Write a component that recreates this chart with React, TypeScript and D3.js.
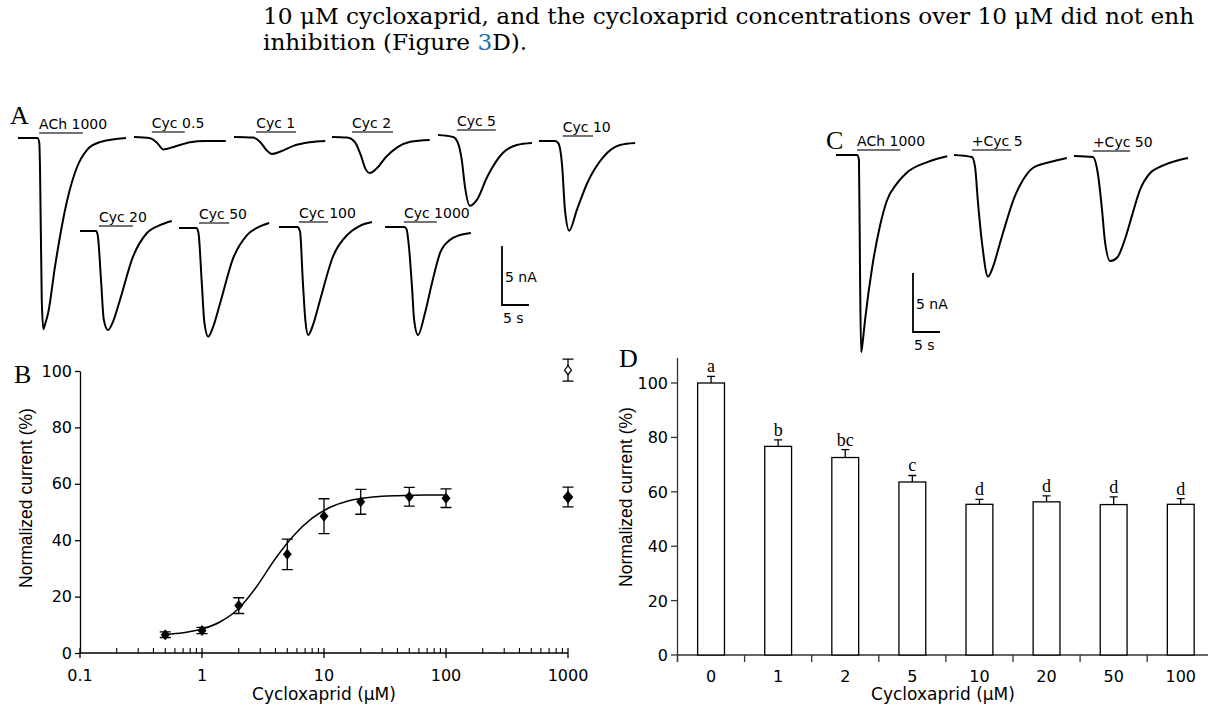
import React, { useRef, useEffect } from "react";
import * as d3 from "d3";

const SANS = "'DejaVu Sans', Verdana, sans-serif";
const SANS_ROT = "'Liberation Sans', Arial, sans-serif";
const SERIF = "'Liberation Serif', 'Times New Roman', serif";
const BODY = "'DejaVu Serif', Georgia, serif";

// running text above the figure
const bodyLine1 = "10 μM cycloxaprid, and the cycloxaprid concentrations over 10 μM did not enh";
const bodyLine2a = "inhibition (Figure ";
const bodyLine2ref = "3";
const bodyLine2b = "D).";

// Panel A: current traces (time in s, current in nA)
const labelsA = ["ACh 1000", "Cyc 0.5", "Cyc 1", "Cyc 2", "Cyc 5", "Cyc 10", "Cyc 20", "Cyc 50", "Cyc 100", "Cyc 1000"];
const barsA = [[3.9, 12.0], [3.3, 9.4], [4.1, 11.5], [3.7, 11.3], [3.5, 10.7], [4.4, 10.0], [3.5, 9.8], [3.7, 9.3], [3.7, 9.1], [3.5, 9.6]];
const timesA = [
  [0, 3.6, 3.95, 4.07, 4.4, 4.7, 5.0, 5.6, 6.85, 9.1, 10.9, 12.8, 15.2, 20],
  [0, 3.0, 4.3, 5.4, 7.6, 10.4, 13.1, 17],
  [0, 3.5, 4.8, 6.0, 7.0, 8.5, 11, 14, 16.9],
  [0, 2.8, 4.2, 5.3, 6.2, 7.0, 8.2, 10, 12, 14.5, 18.1],
  [0, 2.8, 3.7, 4.4, 5.0, 5.9, 7.2, 9.1, 12, 14.6, 17.4],
  [0, 3.0, 3.6, 4.3, 4.8, 5.6, 7.0, 8.9, 11.9, 15, 17.8],
  [0, 3.0, 3.3, 3.9, 4.4, 5.2, 6.1, 7.4, 9.8, 12.4, 14.8, 17],
  [0, 3.2, 3.6, 4.2, 4.7, 5.4, 6.3, 7.6, 10, 12.6, 14.8, 16.7],
  [0, 3.4, 3.9, 4.4, 4.9, 5.4, 6.3, 7.6, 10, 12.8, 15, 17.2],
  [0, 3.6, 4.0, 4.5, 5.0, 5.4, 6.1, 7.4, 8.7, 10.2, 12, 13.9, 15.9],
];
const currentsA = [
  [0, 0, -0.45, -2.4, -13.7, -16.2, -15.8, -14.8, -10.9, -5.3, -2.5, -1.0, -0.35, 0],
  [0, -0.1, -0.5, -1.05, -0.8, -0.45, -0.34, -0.34],
  [0, -0.05, -0.4, -1.1, -1.44, -1.25, -0.75, -0.45, -0.34],
  [0, -0.05, -0.4, -1.5, -2.7, -3.05, -2.7, -1.7, -0.9, -0.4, -0.25],
  [0, -0.17, -0.68, -2.1, -4.4, -6.0, -5.5, -3.56, -1.53, -0.85, -0.68],
  [0, 0, -0.2, -2.2, -5.8, -7.6, -5.85, -3.6, -1.36, -0.34, -0.17],
  [0, 0, -0.4, -4.2, -7.5, -8.4, -7.7, -5.85, -2.2, -0.17, 0.5, 0.85],
  [0, 0, -0.4, -4.5, -8, -9.2, -8.4, -6.4, -2.6, -0.6, 0.1, 0.42],
  [0, 0, -0.4, -4.5, -8, -9.15, -8.3, -6.2, -2.5, -0.6, 0.1, 0.42],
  [0, 0, -0.2, -2, -5.1, -7.9, -9.15, -7.3, -4.75, -2.2, -1.1, -0.68, -0.5],
];

// Panel C: current traces
const labelsC = ["ACh 1000", "+Cyc 5", "+Cyc 50"];
const barsC = [[3.9, 11.9], [3.3, 10.6], [3.5, 10.4]];
const timesC = [
  [0, 3.9, 4.25, 4.45, 4.65, 4.9, 5.4, 6.7, 8.1, 9.4, 11.3, 13.1, 16.9, 20.6],
  [0, 3.3, 3.9, 4.4, 5.2, 6.3, 7.2, 8.5, 9.8, 11, 12.8, 14.6, 17.8, 20.9],
  [0, 3.5, 4.4, 5.2, 5.7, 6.7, 8.0, 9.4, 10.9, 12.2, 14.1, 15.9, 18.3, 21.1],
];
const currentsC = [
  [0, 0, -0.4, -10, -16.7, -16.0, -13.9, -9.5, -6.1, -3.9, -2.4, -1.5, -0.6, -0.1],
  [0, -0.17, -1.0, -3.8, -7.5, -10.3, -9.5, -7.5, -5.5, -3.8, -2.1, -1.1, -0.6, -0.25],
  [0, -0.08, -1.44, -4.6, -7.1, -8.9, -8.6, -7.1, -4.8, -2.9, -1.44, -0.93, -0.5, -0.17],
];

// Panel B: concentration-response
const concB = [0.5, 1, 2, 5, 10, 20, 50, 100];
const meanB = [6.5, 8.0, 16.8, 35, 48.5, 53.6, 55.4, 54.9];
const semB = [1.0, 1.1, 2.8, 5.4, 6.2, 4.4, 3.3, 3.3];
const fitConc = [0.5, 0.7, 1, 1.4, 2, 2.8, 4, 5.6, 8, 11, 16, 25, 40, 70, 100];
const fitResp = [6.6, 7.2, 8.5, 11, 15.8, 23.5, 33.5, 41.5, 47.8, 51.5, 54, 55.3, 55.8, 56, 56];
const highConc = [1000, 1000];
const highMean = [55.3, 100.3];
const highSem = [3.5, 3.9];
const highFilled = [true, false];
const ticksBx = [0.1, 1, 10, 100, 1000];
const ticksBy = [0, 20, 40, 60, 80, 100];

// Panel D: bars
const catD = ["0", "1", "2", "5", "10", "20", "50", "100"];
const meanD = [100, 76.7, 72.6, 63.6, 55.4, 56.3, 55.3, 55.4];
const semD = [2.4, 2.4, 2.9, 2.4, 1.8, 2.2, 2.8, 2.1];
const lettersD = ["a", "b", "bc", "c", "d", "d", "d", "d"];
const ticksDy = [0, 20, 40, 60, 80, 100];

export default function App() {
  const ref = useRef<SVGSVGElement>(null);

  useEffect(() => {
    document.body.style.margin = "0";
    const svg = d3.select(ref.current);
    svg.selectAll("*").remove();

    // ---- running text
    svg.append("text").attr("x", 263).attr("y", 24)
      .attr("font-family", BODY).attr("font-size", 23.2).text(bodyLine1);
    const l2 = svg.append("text").attr("x", 263).attr("y", 50)
      .attr("font-family", BODY).attr("font-size", 23.2);
    l2.append("tspan").text(bodyLine2a);
    l2.append("tspan").attr("fill", "#1f6fb5").text(bodyLine2ref);
    l2.append("tspan").text(bodyLine2b);

    // ---- traces (A and C share the same scale)
    const tScale = d3.scaleLinear().domain([0, 5]).range([0, 27]);
    const iScale = d3.scaleLinear().domain([0, -5]).range([0, 59]);
    const line = d3.line<[number, number]>()
      .x((d) => tScale(d[0]))
      .y((d) => iScale(d[1]))
      .curve(d3.curveMonotoneX);

    const drawTraces = (origins, times, currents, labels, bars) => {
      times.forEach((ts, k) => {
        const g = svg.append("g").attr("transform", `translate(${origins[k][0]},${origins[k][1]})`);
        const pts = ts.map((t, j) => [t, currents[k][j]] as [number, number]);
        g.append("path").attr("d", line(pts)).attr("fill", "none")
          .attr("stroke", "#000").attr("stroke-width", 2);
        g.append("line")
          .attr("x1", tScale(bars[k][0])).attr("x2", tScale(bars[k][1]))
          .attr("y1", -5).attr("y2", -5)
          .attr("stroke", "#444").attr("stroke-width", 1.5);
        g.append("text").attr("x", tScale(bars[k][0])).attr("y", -9)
          .attr("font-family", SANS).attr("font-size", 14).text(labels[k]);
      });
    };

    const originsA = [[18, 138], [134, 137], [234, 137], [332, 137], [438, 135], [539, 141], [80, 231], [179, 228], [279, 227], [385, 227]];
    drawTraces(originsA, timesA, currentsA, labelsA, barsA);
    const originsC = [[836, 155], [954, 155], [1074, 156]];
    drawTraces(originsC, timesC, currentsC, labelsC, barsC);

    const scaleBar = (x, y) => {
      const h = iScale(-5), w = tScale(5);
      svg.append("path").attr("d", `M${x},${y - h}V${y}H${x + w}`)
        .attr("fill", "none").attr("stroke", "#000").attr("stroke-width", 1.8);
      svg.append("text").attr("x", x + 3).attr("y", y - h / 2 + 6)
        .attr("font-family", SANS).attr("font-size", 14).text("5 nA");
      svg.append("text").attr("x", x + 1).attr("y", y + 18)
        .attr("font-family", SANS).attr("font-size", 14).text("5 s");
    };
    scaleBar(502, 305);
    scaleBar(913, 332);

    // ---- panel letters
    const letter = (s, x, y, size = 26) =>
      svg.append("text").attr("x", x).attr("y", y).attr("font-family", SERIF)
        .attr("font-size", size).text(s);
    letter("A", 10, 124);
    letter("B", 14, 383);
    letter("C", 826, 149);
    letter("D", 619, 367);

    // ---- panel B
    const xB = d3.scaleLog().domain([0.1, 1000]).range([80, 568]);
    const yB = d3.scaleLinear().domain([0, 100]).range([653, 371]);
    const gB = svg.append("g");

    gB.append("g").attr("transform", `translate(${xB(0.1)},0)`)
      .call(d3.axisLeft(yB).tickValues(ticksBy).tickSize(5).tickSizeOuter(0).tickPadding(3))
      .call((g) => g.selectAll("text").attr("font-family", SANS).attr("font-size", 16).attr("fill", "#000"))
      .call((g) => g.selectAll("path,line").attr("stroke", "#000").attr("stroke-width", 1.3));

    gB.append("line").attr("x1", xB(0.1)).attr("x2", xB(1000))
      .attr("y1", yB(0)).attr("y2", yB(0)).attr("stroke", "#000").attr("stroke-width", 1.3);
    const minor: number[] = [];
    ticksBx.slice(0, -1).forEach((d) => { for (let m = 2; m <= 9; m++) minor.push(d * m); });
    gB.selectAll(".minor").data(minor).join("line")
      .attr("x1", (d) => xB(d)).attr("x2", (d) => xB(d))
      .attr("y1", yB(0)).attr("y2", yB(0) - 5)
      .attr("stroke", "#000").attr("stroke-width", 1.1);
    gB.selectAll(".major").data(ticksBx).join("line")
      .attr("x1", (d) => xB(d)).attr("x2", (d) => xB(d))
      .attr("y1", yB(0) - 5).attr("y2", yB(0) + 5)
      .attr("stroke", "#000").attr("stroke-width", 1.3);
    gB.selectAll(".xlab").data(ticksBx).join("text")
      .attr("x", (d) => xB(d)).attr("y", 681).attr("text-anchor", "middle")
      .attr("font-family", SANS).attr("font-size", 16).text((d) => String(d));
    gB.append("text").attr("x", 324).attr("y", 700).attr("text-anchor", "middle")
      .attr("font-family", SANS).attr("font-size", 17).text("Cycloxaprid (μM)");
    gB.append("text").attr("transform", `translate(32,${(yB(0) + yB(100)) / 2 - 14}) rotate(-90)`)
      .attr("text-anchor", "middle").attr("font-family", SANS_ROT).attr("font-size", 17.5)
      .text("Normalized current (%)");

    const fitPts = fitConc.map((c, i) => [xB(c), yB(fitResp[i])] as [number, number]);
    gB.append("path").attr("d", d3.line().curve(d3.curveMonotoneX)(fitPts))
      .attr("fill", "none").attr("stroke", "#000").attr("stroke-width", 1.5);

    const diamond = (cx, cy, w, h) => `M${cx},${cy - h}L${cx + w},${cy}L${cx},${cy + h}L${cx - w},${cy}Z`;
    const errB = (c, m, s) => {
      const x = xB(c);
      gB.append("path")
        .attr("d", `M${x},${yB(m + s)}V${yB(m - s)}M${x - 5.5},${yB(m + s)}H${x + 5.5}M${x - 5.5},${yB(m - s)}H${x + 5.5}`)
        .attr("stroke", "#000").attr("stroke-width", 1.3).attr("fill", "none");
    };
    concB.forEach((c, i) => {
      errB(c, meanB[i], semB[i]);
      gB.append("path").attr("d", diamond(xB(c), yB(meanB[i]), 4.5, 5.5)).attr("fill", "#000");
    });
    highConc.forEach((c, i) => {
      errB(c, highMean[i], highSem[i]);
      gB.append("path")
        .attr("d", highFilled[i] ? diamond(xB(c), yB(highMean[i]), 4.5, 5.5) : diamond(xB(c), yB(highMean[i]), 3.5, 4.5))
        .attr("fill", highFilled[i] ? "#000" : "#fff").attr("stroke", "#000").attr("stroke-width", 1.2);
    });

    // ---- panel D
    const xD = d3.scaleBand().domain(catD).range([677.5, 677.5 + 67.1 * 8]).paddingInner(0.6).paddingOuter(0.3);
    const yD = d3.scaleLinear().domain([0, 100]).range([655, 383]);
    const gD = svg.append("g");
    const axisCol = "#333";

    gD.append("line").attr("x1", 677.5).attr("x2", 677.5).attr("y1", yD(0) + 7).attr("y2", yD(109.2))
      .attr("stroke", axisCol).attr("stroke-width", 1.3);
    gD.selectAll(".yt").data(ticksDy).join("line")
      .attr("x1", 671).attr("x2", 677.5).attr("y1", (d) => yD(d)).attr("y2", (d) => yD(d))
      .attr("stroke", axisCol).attr("stroke-width", 1.3);
    gD.selectAll(".yl").data(ticksDy).join("text")
      .attr("x", 668).attr("y", (d) => yD(d) + 6).attr("text-anchor", "end")
      .attr("font-family", SANS).attr("font-size", 16).text((d) => String(d));
    gD.append("line").attr("x1", 677.5).attr("x2", 1210).attr("y1", yD(0)).attr("y2", yD(0))
      .attr("stroke", axisCol).attr("stroke-width", 1.3);
    const step = xD.step();
    const bounds = catD.map((c) => (xD(c) as number) + xD.bandwidth() / 2 - step / 2);
    gD.selectAll(".xt").data(bounds).join("line")
      .attr("x1", (d) => d).attr("x2", (d) => d).attr("y1", yD(0)).attr("y2", yD(0) + 7)
      .attr("stroke", axisCol).attr("stroke-width", 1.3);
    gD.selectAll(".xl").data(catD).join("text")
      .attr("x", (d) => (xD(d) as number) + xD.bandwidth() / 2).attr("y", 682).attr("text-anchor", "middle")
      .attr("font-family", SANS).attr("font-size", 16).text((d) => d);
    gD.append("text").attr("x", 943).attr("y", 700).attr("text-anchor", "middle")
      .attr("font-family", SANS).attr("font-size", 17).text("Cycloxaprid (μM)");
    gD.append("text").attr("transform", `translate(632,${(yD(0) + yD(100)) / 2 - 22}) rotate(-90)`)
      .attr("text-anchor", "middle").attr("font-family", SANS_ROT).attr("font-size", 17.5)
      .text("Normalized current (%)");

    catD.forEach((c, i) => {
      const x0 = xD(c) as number;
      const cx = x0 + xD.bandwidth() / 2;
      const top = yD(meanD[i]), cap = yD(meanD[i] + semD[i]);
      gD.append("path").attr("d", `M${cx},${top}V${cap}M${cx - 4},${cap}H${cx + 4}`)
        .attr("stroke", "#000").attr("stroke-width", 1.3).attr("fill", "none");
      gD.append("rect").attr("x", x0).attr("y", top).attr("width", xD.bandwidth())
        .attr("height", yD(0) - top).attr("fill", "#fff").attr("stroke", "#000").attr("stroke-width", 1.3);
      gD.append("text").attr("x", cx).attr("y", cap - 4).attr("text-anchor", "middle")
        .attr("font-family", SERIF).attr("font-size", 18).text(lettersD[i]);
    });
  }, []);

  return (
    <svg ref={ref} width={1208} height={706}
      style={{ position: "absolute", left: 0, top: 0, background: "#fff" }} />
  );
}
